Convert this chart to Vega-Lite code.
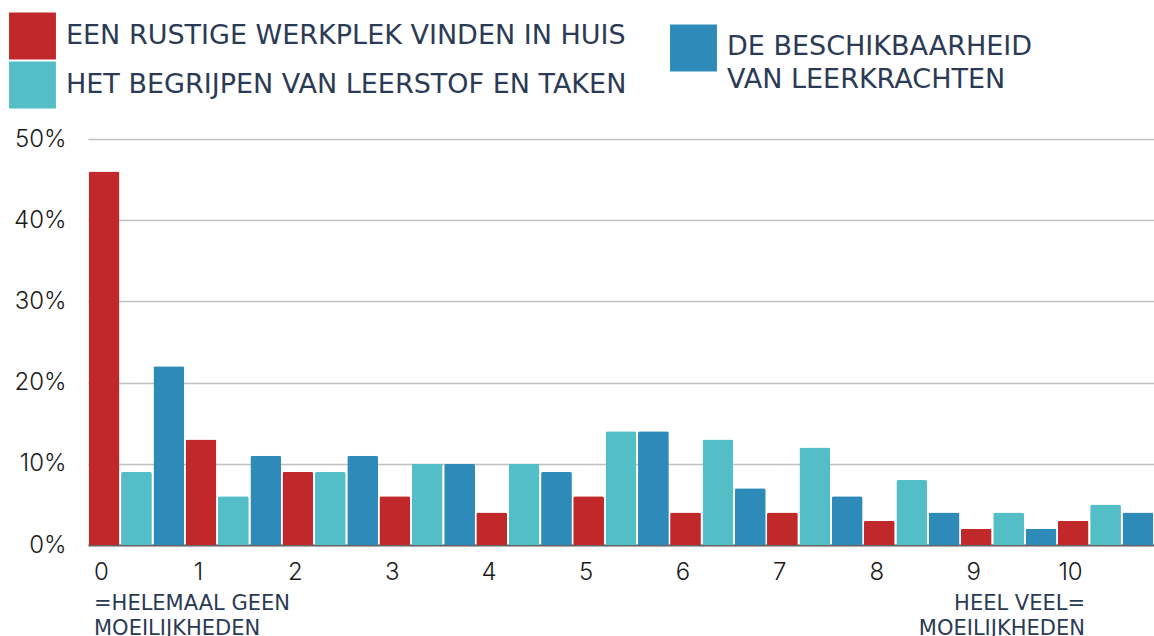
{
  "$schema": "https://vega.github.io/schema/vega-lite/v6.json",
  "autosize": {"type": "none"},
  "width": 1066,
  "height": 406,
  "padding": {"left": 88, "top": 139, "right": 0, "bottom": 91},
  "config": {"view": {"stroke": null}, "font": "Inter"},
  "datasets": {
    "bars": [
      {"score": "0", "series": "EEN RUSTIGE WERKPLEK VINDEN IN HUIS", "pct": 46},
      {"score": "0", "series": "HET BEGRIJPEN VAN LEERSTOF EN TAKEN", "pct": 9},
      {"score": "0", "series": "DE BESCHIKBAARHEID VAN LEERKRACHTEN", "pct": 22},
      {"score": "1", "series": "EEN RUSTIGE WERKPLEK VINDEN IN HUIS", "pct": 13},
      {"score": "1", "series": "HET BEGRIJPEN VAN LEERSTOF EN TAKEN", "pct": 6},
      {"score": "1", "series": "DE BESCHIKBAARHEID VAN LEERKRACHTEN", "pct": 11},
      {"score": "2", "series": "EEN RUSTIGE WERKPLEK VINDEN IN HUIS", "pct": 9},
      {"score": "2", "series": "HET BEGRIJPEN VAN LEERSTOF EN TAKEN", "pct": 9},
      {"score": "2", "series": "DE BESCHIKBAARHEID VAN LEERKRACHTEN", "pct": 11},
      {"score": "3", "series": "EEN RUSTIGE WERKPLEK VINDEN IN HUIS", "pct": 6},
      {"score": "3", "series": "HET BEGRIJPEN VAN LEERSTOF EN TAKEN", "pct": 10},
      {"score": "3", "series": "DE BESCHIKBAARHEID VAN LEERKRACHTEN", "pct": 10},
      {"score": "4", "series": "EEN RUSTIGE WERKPLEK VINDEN IN HUIS", "pct": 4},
      {"score": "4", "series": "HET BEGRIJPEN VAN LEERSTOF EN TAKEN", "pct": 10},
      {"score": "4", "series": "DE BESCHIKBAARHEID VAN LEERKRACHTEN", "pct": 9},
      {"score": "5", "series": "EEN RUSTIGE WERKPLEK VINDEN IN HUIS", "pct": 6},
      {"score": "5", "series": "HET BEGRIJPEN VAN LEERSTOF EN TAKEN", "pct": 14},
      {"score": "5", "series": "DE BESCHIKBAARHEID VAN LEERKRACHTEN", "pct": 14},
      {"score": "6", "series": "EEN RUSTIGE WERKPLEK VINDEN IN HUIS", "pct": 4},
      {"score": "6", "series": "HET BEGRIJPEN VAN LEERSTOF EN TAKEN", "pct": 13},
      {"score": "6", "series": "DE BESCHIKBAARHEID VAN LEERKRACHTEN", "pct": 7},
      {"score": "7", "series": "EEN RUSTIGE WERKPLEK VINDEN IN HUIS", "pct": 4},
      {"score": "7", "series": "HET BEGRIJPEN VAN LEERSTOF EN TAKEN", "pct": 12},
      {"score": "7", "series": "DE BESCHIKBAARHEID VAN LEERKRACHTEN", "pct": 6},
      {"score": "8", "series": "EEN RUSTIGE WERKPLEK VINDEN IN HUIS", "pct": 3},
      {"score": "8", "series": "HET BEGRIJPEN VAN LEERSTOF EN TAKEN", "pct": 8},
      {"score": "8", "series": "DE BESCHIKBAARHEID VAN LEERKRACHTEN", "pct": 4},
      {"score": "9", "series": "EEN RUSTIGE WERKPLEK VINDEN IN HUIS", "pct": 2},
      {"score": "9", "series": "HET BEGRIJPEN VAN LEERSTOF EN TAKEN", "pct": 4},
      {"score": "9", "series": "DE BESCHIKBAARHEID VAN LEERKRACHTEN", "pct": 2},
      {"score": "10", "series": "EEN RUSTIGE WERKPLEK VINDEN IN HUIS", "pct": 3},
      {"score": "10", "series": "HET BEGRIJPEN VAN LEERSTOF EN TAKEN", "pct": 5},
      {"score": "10", "series": "DE BESCHIKBAARHEID VAN LEERKRACHTEN", "pct": 4}
    ],
    "notes": [
      {"score": "0", "side": "left", "lines": ["=HELEMAAL GEEN", "MOEILIJKHEDEN"]},
      {"score": "10", "side": "right", "lines": ["HEEL VEEL=", "MOEILIJKHEDEN"]}
    ]
  },
  "layer": [
    {
      "data": {"name": "bars"},
      "mark": {"type": "bar", "cornerRadiusTopLeft": 2, "cornerRadiusTopRight": 2},
      "encoding": {
        "x": {
          "field": "score", "type": "nominal",
          "scale": {"domain": ["0","1","2","3","4","5","6","7","8","9","10"], "paddingInner": 0, "paddingOuter": 0},
          "axis": {
            "title": null, "domain": true, "domainColor": "#666666", "domainWidth": 2,
            "ticks": false, "grid": false, "labelAngle": 0, "labelOffset": -35,
            "labelFontSize": 24, "labelFontWeight": 300, "labelColor": "#1a1a1a", "labelPadding": 15
          }
        },
        "xOffset": {
          "field": "series", "type": "nominal",
          "scale": {"domain": ["EEN RUSTIGE WERKPLEK VINDEN IN HUIS", "HET BEGRIJPEN VAN LEERSTOF EN TAKEN", "DE BESCHIKBAARHEID VAN LEERKRACHTEN"], "paddingInner": 0.05, "paddingOuter": 0.02}
        },
        "y": {
          "field": "pct", "type": "quantitative",
          "scale": {"domain": [0, 50], "nice": false},
          "axis": {
            "title": null, "values": [0, 10, 20, 30, 40, 50], "labelExpr": "datum.value + '%'",
            "domain": false, "ticks": false, "grid": true, "gridColor": "#c0c0c0", "gridWidth": 1.5,
            "labelFontSize": 24, "labelFontWeight": 300, "labelColor": "#1a1a1a", "labelPadding": 22
          }
        },
        "color": {
          "field": "series", "type": "nominal",
          "scale": {
            "domain": ["EEN RUSTIGE WERKPLEK VINDEN IN HUIS", "HET BEGRIJPEN VAN LEERSTOF EN TAKEN", "DE BESCHIKBAARHEID VAN LEERKRACHTEN"],
            "range": ["#c1282a", "#54bec7", "#2d8ab9"]
          },
          "legend": {
            "orient": "none", "legendX": -79, "legendY": -127, "columns": 2, "title": null,
            "gridAlign": "none",
            "symbolType": "square", "symbolSize": 2200, "symbolStrokeWidth": 0, "symbolOpacity": 1,
            "labelFont": "DejaVu Sans", "labelFontSize": 27, "labelColor": "#2b3a55", "labelLimit": 800, "labelOffset": 10,
            "columnPadding": 43, "rowPadding": -32,
            "labelExpr": "datum.label == 'DE BESCHIKBAARHEID VAN LEERKRACHTEN' ? ['DE BESCHIKBAARHEID', ' VAN LEERKRACHTEN'] : datum.label",
            "encode": {
              "labels": {"update": {"lineHeight": {"value": 33}, "dy": {"signal": "datum.value == 'DE BESCHIKBAARHEID VAN LEERKRACHTEN' ? 11 : 0"}}},
              "symbols": {"update": {"y": {"signal": "datum.value == 'DE BESCHIKBAARHEID VAN LEERKRACHTEN' ? 36 : 24"}}}
            }
          }
        }
      }
    },
    {
      "data": {"name": "notes"},
      "transform": [{"filter": "datum.side == 'left'"}],
      "mark": {"type": "text", "align": "left", "baseline": "alphabetic", "dx": 6, "font": "DejaVu Sans", "fontSize": 21, "lineHeight": 25, "color": "#2b3a55"},
      "encoding": {
        "x": {"field": "score", "type": "nominal", "bandPosition": 0},
        "y": {"datum": -8},
        "text": {"field": "lines"}
      }
    },
    {
      "data": {"name": "notes"},
      "transform": [{"filter": "datum.side == 'right'"}],
      "mark": {"type": "text", "align": "right", "baseline": "alphabetic", "dx": -69, "font": "DejaVu Sans", "fontSize": 21, "lineHeight": 25, "color": "#2b3a55"},
      "encoding": {
        "x": {"field": "score", "type": "nominal", "bandPosition": 1},
        "y": {"datum": -8},
        "text": {"field": "lines"}
      }
    }
  ]
}
